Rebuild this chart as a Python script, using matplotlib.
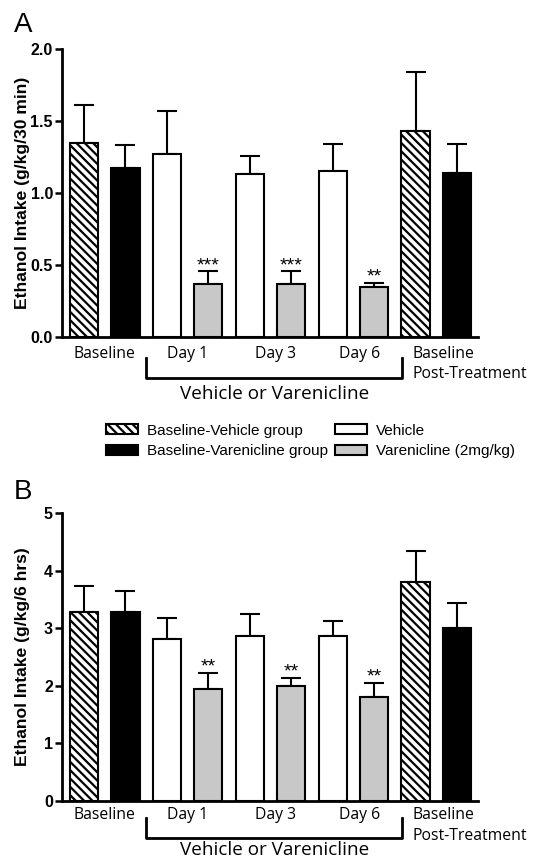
import numpy as np
import matplotlib
matplotlib.use("Agg")
import matplotlib.pyplot as plt
from matplotlib.patches import Patch
import matplotlib.transforms as mtransforms

plt.rcParams['hatch.linewidth'] = 1.6

# bar order: base-veh, base-var, D1 veh, D1 var, D3 veh, D3 var, D6 veh, D6 var, post-veh, post-var
styles = ['hatch', 'black', 'white', 'grey', 'white', 'grey', 'white', 'grey', 'hatch', 'black']

mean_a = [1.35, 1.175, 1.27, 0.367, 1.13, 0.37, 1.155, 0.347, 1.428, 1.139]
sem_a = [0.26, 0.158, 0.30, 0.088, 0.13, 0.085, 0.185, 0.031, 0.412, 0.201]
stars_a = {3: '***', 5: '***', 7: '**'}

mean_b = [3.29, 3.28, 2.81, 1.94, 2.87, 2.0, 2.87, 1.80, 3.81, 3.0]
sem_b = [0.44, 0.36, 0.37, 0.29, 0.37, 0.14, 0.25, 0.25, 0.53, 0.43]
stars_b = {3: '**', 5: '**', 7: '**'}

cat_labels = ['Baseline', 'Day 1', 'Day 3', 'Day 6']
cat_pos = [0.5, 2.5, 4.62, 6.65]

fill = {'hatch': 'white', 'black': 'black', 'white': 'white', 'grey': '#c8c8c8'}
HATCH = '\\\\\\\\'

tick_font = dict(family='Liberation Sans', weight='bold', size=11.5)
cat_font = 'Open Sans'


def draw_panel(ax, means, sems, stars, yticks, ylabel, lab_y, br_top, br_bot, vv_y):
    x = np.arange(len(means))
    for i, (m, s) in enumerate(zip(means, sems)):
        st = styles[i]
        ax.bar(x[i], m, width=0.68, color=fill[st], edgecolor='black', linewidth=1.5,
               hatch=HATCH if st == 'hatch' else None, zorder=3)
        ax.errorbar(x[i], m, yerr=[[0], [s]], fmt='none', ecolor='black',
                    elinewidth=1.5, capsize=7, capthick=1.5, zorder=2)
        if i in stars:
            ax.annotate(stars[i], (x[i], m + s), xytext=(0, -2), textcoords='offset points',
                        ha='center', va='bottom', fontsize=14, family='Liberation Sans')
    ax.set_xlim(-0.53, 9.5)
    ax.set_ylim(yticks[0], yticks[-1])
    ax.set_yticks(yticks)
    ax.set_xticks([])
    for sp in ['top', 'right']:
        ax.spines[sp].set_visible(False)
    for sp in ['left', 'bottom']:
        ax.spines[sp].set_linewidth(2)
    ax.tick_params(axis='y', width=1.8, length=5, pad=1.5)
    for t in ax.get_yticklabels():
        t.set_fontproperties(tick_font)
    ax.set_ylabel(ylabel, family='Liberation Sans', weight='bold', fontsize=12.6)
    ax.yaxis.set_label_coords(-0.078, 0.5)

    trans = mtransforms.blended_transform_factory(ax.transData, ax.transAxes)
    for lab, p in zip(cat_labels, cat_pos):
        ax.text(p, lab_y, lab, transform=trans, ha='center', va='center',
                family=cat_font, fontsize=11.3)
    ax.text(7.92, lab_y, 'Baseline', transform=trans, ha='left', va='center',
            family=cat_font, fontsize=11.3)
    ax.text(7.92, lab_y - 0.072, 'Post-Treatment', transform=trans, ha='left', va='center',
            family=cat_font, fontsize=11.3)
    ax.plot([1.5, 1.5, 7.68, 7.68], [br_top, br_bot, br_bot, br_top], color='black',
            linewidth=2, transform=trans, clip_on=False)
    ax.text(4.59, vv_y, 'Vehicle or Varenicline', transform=trans, ha='center', va='center',
            family=cat_font, fontsize=13.6)


fig = plt.figure(figsize=(5.46, 8.63), dpi=100)
ax_a = fig.add_axes([0.1136, 0.6095, 0.7614, 0.3337])
ax_b = fig.add_axes([0.1136, 0.0718, 0.7614, 0.3337])

draw_panel(ax_a, mean_a, sem_a, stars_a, [0.0, 0.5, 1.0, 1.5, 2.0],
           'Ethanol Intake (g/kg/30 min)', -0.058, -0.072, -0.142, -0.198)
ax_a.set_yticklabels(['0.0', '0.5', '1.0', '1.5', '2.0'])
for t in ax_a.get_yticklabels():
    t.set_fontproperties(tick_font)
draw_panel(ax_b, mean_b, sem_b, stars_b, [0, 1, 2, 3, 4, 5],
           'Ethanol Intake (g/kg/6 hrs)', -0.05, -0.06, -0.127, -0.17)

fig.text(0.042, 0.971, 'A', fontsize=20, family='Liberation Sans', va='center', ha='center')
fig.text(0.042, 0.43, 'B', fontsize=20, family='Liberation Sans', va='center', ha='center')

handles = [Patch(facecolor='white', edgecolor='black', hatch=HATCH, linewidth=1.5),
           Patch(facecolor='black', edgecolor='black', linewidth=1.5),
           Patch(facecolor='white', edgecolor='black', linewidth=1.5),
           Patch(facecolor='#c8c8c8', edgecolor='black', linewidth=1.5)]
names = ['Baseline-Vehicle group', 'Baseline-Varenicline group', 'Vehicle', 'Varenicline (2mg/kg)']
fig.legend(handles, names, loc='center', bbox_to_anchor=(0.569, 0.489), ncol=2,
           frameon=False, prop={'family': 'Liberation Sans', 'size': 11},
           handlelength=2.1, handleheight=0.6, handletextpad=0.6,
           columnspacing=0.45, labelspacing=0.45, borderaxespad=0, borderpad=0)

fig.savefig('out.png', dpi=100)
